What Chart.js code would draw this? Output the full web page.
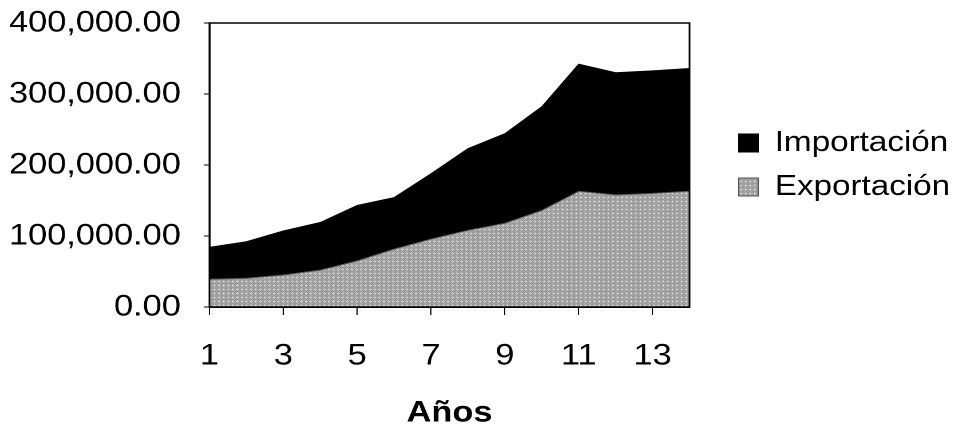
<!DOCTYPE html>
<html>
<head>
<meta charset="utf-8">
<script src="https://cdn.jsdelivr.net/npm/chart.js@4.4.0/dist/chart.umd.min.js"></script>
<style>
  html, body { margin: 0; padding: 0; background: #fff; overflow: hidden; width: 961px; height: 428px; }
</style>
</head>
<body>
<canvas id="grafico" width="900" height="428" style="width:1030px;height:428px"></canvas>
<script>
// datos
const anios = ['1', '2', '3', '4', '5', '6', '7', '8', '9', '10', '11', '12', '13', '14'];
const exportacion = [39000, 40500, 45000, 52000, 65000, 81500, 95700, 108000, 118000, 136000, 163000, 158000, 160000, 163000];
const importacion = [45000, 51500, 62000, 67000, 78000, 72500, 92000, 115000, 126000, 146000, 179000, 172000, 172600, 173000];
const ticksY = [0, 100000, 200000, 300000, 400000];

const fuente = "'Liberation Sans', Arial, sans-serif";

// trama gris tipo impresion
function trama() {
    const c = document.createElement('canvas');
    c.width = 4; c.height = 4;
    const g = c.getContext('2d');
    g.fillStyle = '#d6d6d6';
    g.fillRect(0, 0, 4, 4);
    g.fillStyle = '#6a6a6a';
    for (let y = 0; y < 4; y++) {
        for (let x = 0; x < 4; x++) {
            if ((x + y) % 2 === 0) g.fillRect(x, y, 1, 1);
        }
    }
    g.fillStyle = '#f2f2f2';
    g.fillRect(3, 1, 1, 1);
    return g.createPattern(c, 'repeat');
}
const gris = trama();

// marco del area de trazado
const marco = {
    id: 'marco',
    afterDatasetsDraw(chart) {
        const { ctx, chartArea: a } = chart;
        ctx.save();
        ctx.strokeStyle = '#000';
        ctx.lineWidth = 1.5;
        ctx.strokeRect(a.left, a.top, a.right - a.left, a.bottom - a.top);
        ctx.restore();
    }
};

const fmt = v => v.toLocaleString('en-US', { minimumFractionDigits: 2, maximumFractionDigits: 2 });

new Chart(document.getElementById('grafico'), {
    type: 'line',
    data: {
        labels: anios,
        datasets: [
            {
                label: 'Exportación',
                data: exportacion,
                backgroundColor: gris,
                borderColor: '#555',
                borderWidth: 1,
                fill: 'origin',
                pointRadius: 0,
                tension: 0
            },
            {
                label: 'Importación',
                data: importacion,
                backgroundColor: '#000',
                borderColor: '#000',
                borderWidth: 1,
                fill: '-1',
                pointRadius: 0,
                tension: 0
            }
        ]
    },
    options: {
        responsive: false,
        devicePixelRatio: 2,
        animation: false,
        layout: { padding: { top: 23, left: 8, right: 62, bottom: 0 } },
        plugins: {
            tooltip: { enabled: false },
            legend: {
                position: 'right',
                fullSize: false,
                reverse: true,
                labels: {
                    color: '#000',
                    font: { family: fuente, size: 29 },
                    boxWidth: 17,
                    boxHeight: 18,
                    padding: 15
                }
            }
        },
        scales: {
            x: {
                offset: false,
                grid: {
                    drawOnChartArea: false,
                    tickLength: 8,
                    color: ctx => (ctx.index % 2 === 0 ? '#000' : 'rgba(0,0,0,0)')
                },
                border: { display: true, color: '#000', width: 1.5 },
                ticks: {
                    autoSkip: false,
                    maxRotation: 0,
                    padding: 23,
                    color: '#000',
                    font: { family: fuente, size: 30 },
                    callback: (v, i) => (i % 2 === 0 ? anios[i] : '')
                },
                title: {
                    display: true,
                    text: 'Años',
                    color: '#000',
                    font: { family: fuente, size: 30, weight: 'bold', lineHeight: 1 },
                    padding: { top: 1, bottom: 0 }
                }
            },
            y: {
                stacked: true,
                min: 0,
                max: 400000,
                afterBuildTicks: s => { s.ticks = ticksY.map(v => ({ value: v })); },
                afterFit: s => { s.width = 175; s.paddingTop = 0; s.paddingBottom = 0; },
                grid: { drawOnChartArea: false, tickLength: 5, color: '#000' },
                border: { display: true, color: '#000', width: 1.5 },
                ticks: {
                    padding: 20,
                    color: '#000',
                    font: { family: fuente, size: 30 },
                    callback: v => fmt(v)
                }
            },
            y2: {
                position: 'right',
                display: false,
                afterFit: s => { s.width = 28; }
            }
        }
    },
    plugins: [marco]
});
</script>
</body>
</html>
